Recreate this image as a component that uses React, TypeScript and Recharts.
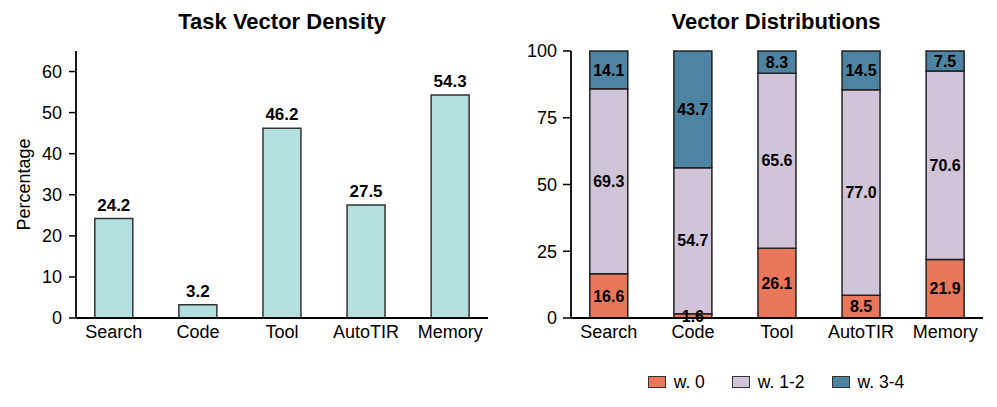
import React from 'react';
import { BarChart, Bar, XAxis, YAxis, LabelList } from 'recharts';

const categories = ['Search', 'Code', 'Tool', 'AutoTIR', 'Memory'];
const density = [24.2, 3.2, 46.2, 27.5, 54.3];
const w0 = [16.6, 1.6, 26.1, 8.5, 21.9];
const w12 = [69.3, 54.7, 65.6, 77.0, 70.6];
const w34 = [14.1, 43.7, 8.3, 14.5, 7.5];
const densityTicks = [0, 10, 20, 30, 40, 50, 60];
const distTicks = [0, 25, 50, 75, 100];
const seriesNames = ['w. 0', 'w. 1-2', 'w. 3-4'];
const seriesKeys = ['w0', 'w12', 'w34'];
const seriesColors = ['#E8775C', '#D0C4D8', '#4E83A2'];

const FONT = '"Liberation Sans", Arial, Helvetica, sans-serif';

const densityData = categories.map((c, i) => ({ idx: i, name: c, v: density[i] }));
const distData = categories.map((c, i) => ({ idx: i, name: c, w0: w0[i], w12: w12[i], w34: w34[i] }));

const tickStyle = { fill: '#000', fontSize: 18 };
const axisLineStyle = { stroke: '#000', strokeWidth: 1.8 };
const fmt = (v: any) => Number(v).toFixed(1);

const PercentageLabel = (props: any) => {
  const vb = props.viewBox || { x: 16, y: 51, width: 60, height: 267 };
  const x = vb.x + 14;
  const y = vb.y + vb.height / 2;
  return (
    <text x={x} y={y} transform={`rotate(-90 ${x} ${y})`} textAnchor="middle" fill="#000" fontSize={18}>
      Percentage
    </text>
  );
};

const titleStyle = (center: number): React.CSSProperties => ({
  position: 'absolute',
  top: 11,
  left: center - 200,
  width: 400,
  textAlign: 'center',
  fontWeight: 'bold',
  fontSize: 22,
  lineHeight: '22px',
  color: '#000',
});

export default function App() {
  return (
    <div style={{ position: 'absolute', left: 0, top: 0, width: 997, height: 407, background: '#fff', fontFamily: FONT }}>
      <div style={titleStyle(282)}>Task Vector Density</div>
      <div style={titleStyle(776)}>Vector Distributions</div>

      <div style={{ position: 'absolute', left: 0, top: 0 }}>
        <BarChart width={500} height={407} data={densityData} margin={{ top: 51, right: 12, bottom: 59, left: 16 }}>
          <XAxis
            dataKey="idx"
            type="number"
            domain={[-0.45, 4.45]}
            ticks={[0, 1, 2, 3, 4]}
            tickFormatter={(i: number) => categories[i]}
            height={30}
            tickSize={0}
            tickMargin={7}
            tickLine={false}
            axisLine={axisLineStyle}
            tick={tickStyle}
            interval={0}
          />
          <YAxis
            width={60}
            domain={[0, 65]}
            ticks={densityTicks}
            tickSize={7}
            tickMargin={7}
            axisLine={axisLineStyle}
            tickLine={{ stroke: '#000', strokeWidth: 1.5 }}
            tick={tickStyle}
            label={{ content: PercentageLabel }}
          />
          <Bar dataKey="v" barSize={38} fill="#B3DFDF" stroke="#333" strokeWidth={1.5} isAnimationActive={false}>
            <LabelList dataKey="v" position="top" offset={8} formatter={fmt} fill="#000" fontSize={17} fontWeight="bold" />
          </Bar>
        </BarChart>
      </div>

      <div style={{ position: 'absolute', left: 500, top: 0 }}>
        <BarChart width={497} height={407} data={distData} margin={{ top: 51, right: 14, bottom: 59, left: 11 }}>
          <XAxis
            dataKey="idx"
            type="number"
            domain={[-0.45, 4.45]}
            ticks={[0, 1, 2, 3, 4]}
            tickFormatter={(i: number) => categories[i]}
            height={30}
            tickSize={0}
            tickMargin={7}
            tickLine={false}
            axisLine={axisLineStyle}
            tick={tickStyle}
            interval={0}
          />
          <YAxis
            width={60}
            domain={[0, 100]}
            ticks={distTicks}
            tickSize={8}
            tickMargin={6}
            axisLine={axisLineStyle}
            tickLine={{ stroke: '#000', strokeWidth: 1.5 }}
            tick={tickStyle}
          />
          {seriesKeys.map((k, i) => (
            <Bar
              key={k}
              dataKey={k}
              name={seriesNames[i]}
              stackId="a"
              barSize={38}
              fill={seriesColors[i]}
              stroke="#222"
              strokeWidth={1.5}
              isAnimationActive={false}
            >
              <LabelList dataKey={k} position="center" formatter={fmt} fill="#000" fontSize={16} fontWeight="bold" />
            </Bar>
          ))}
        </BarChart>
      </div>

      <div
        style={{
          position: 'absolute',
          top: 371,
          left: 576,
          width: 400,
          display: 'flex',
          justifyContent: 'center',
          alignItems: 'center',
          fontSize: 17.5,
          lineHeight: '22px',
          color: '#000',
        }}
      >
        {seriesNames.map((n, i) => (
          <div key={n} style={{ display: 'flex', alignItems: 'center', marginLeft: i === 0 ? 0 : 27 }}>
            <div
              style={{
                boxSizing: 'border-box',
                width: 18,
                height: 12,
                background: seriesColors[i],
                border: '1.2px solid #333',
                marginRight: 8,
              }}
            />
            <span>{n}</span>
          </div>
        ))}
      </div>
    </div>
  );
}
